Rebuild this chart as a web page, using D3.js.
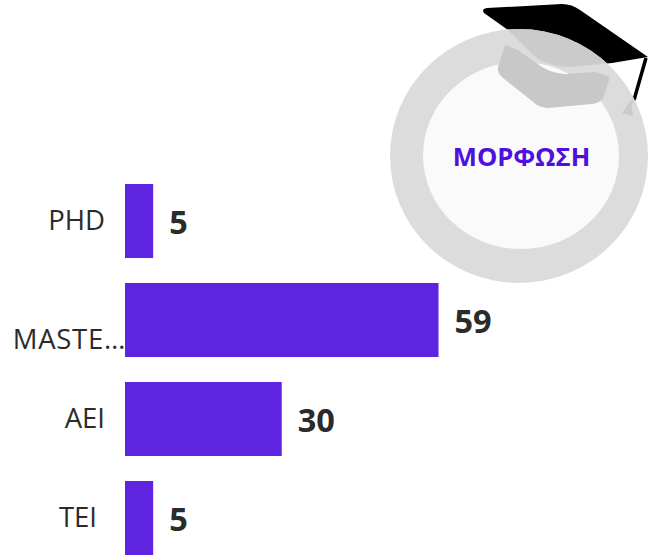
<!DOCTYPE html>
<html>
<head>
<meta charset="utf-8">
<script src="https://d3js.org/d3.v7.min.js"></script>
<style>
  html, body { margin: 0; padding: 0; background: #fff; overflow: hidden; }
  text { font-family: "Open Sans", "Noto Sans", sans-serif; }
</style>
</head>
<body>
<svg id="chart" width="648" height="556"></svg>
<script>
var categories = ["PHD", "MASTER", "AEI", "TEI"];
var values = [5.3, 59, 29.5, 5.3];
var title = "ΜΟΡΦΩΣΗ";

init = function () {
  var svg = d3.select("#chart");

  var x = d3.scaleLinear().domain([0, 59]).range([125, 438.5]);
  var y = d3.scaleBand().domain(categories).range([184, 555]).paddingInner(25 / 99);

  var capTop = "M484 13 Q481 9 487 8 L562 4 Q572 4 580 10 L648 57 L612 63 L570 67 Q550 67 535 57 L508 30 Z";

  svg.append("clipPath")
    .attr("id", "ringclip")
    .append("ellipse")
    .attr("cx", 519).attr("cy", 156).attr("rx", 129).attr("ry", 127);

  //Badge behind the chart
  var badge = svg.append("g");
  badge.append("path")
    .attr("fill", "#000")
    .attr("d", capTop);
  badge.append("path")
    .attr("fill", "none")
    .attr("stroke", "#000")
    .attr("stroke-width", 3.5)
    .attr("d", "M646 58 L634 100");
  badge.append("ellipse")
    .attr("cx", 519).attr("cy", 156).attr("rx", 129).attr("ry", 127)
    .attr("fill", "#dcdcdc");
  badge.append("ellipse")
    .attr("cx", 521).attr("cy", 155.5).attr("rx", 98).attr("ry", 93.5)
    .attr("fill", "#fafafa");

  //The ring is see-through in the original, so redraw what lies under it in grey
  var under = badge.append("g").attr("clip-path", "url(#ringclip)");
  under.append("path")
    .attr("fill", "#cbcbcb")
    .attr("d", capTop);
  under.append("path")
    .attr("fill", "none")
    .attr("stroke", "#d2d2d2")
    .attr("stroke-width", 3.5)
    .attr("d", "M646 58 L632 104");
  badge.append("path")
    .attr("fill", "#c8c8c8")
    .attr("d", "M505 45 L518 50 L542 67 Q552 73 565 74 L595 72 L610 77 L603 98 Q600 103 592 104 L548 108 Q542 108 537 105 L503 78 Q497 73 498 67 Z");
  badge.append("path")
    .attr("fill", "#cbcbcb")
    .attr("d", "M631 100 L622 113 L633 116 Z");

  svg.append("text")
    .attr("x", 521.5).attr("y", 166)
    .attr("text-anchor", "middle")
    .attr("font-size", 25.6).attr("font-weight", 700)
    .attr("fill", "#4f0fdc")
    .text(title);

  //Bars
  svg.selectAll("rect.bar")
    .data(values)
    .enter()
    .append("rect")
    .attr("class", "bar")
    .attr("x", x(0))
    .attr("y", function (d, i) { return y(categories[i]) })
    .attr("width", function (d) { return x(d) - x(0) })
    .attr("height", y.bandwidth())
    .attr("fill", "#5f24e0");

  //Category labels, MASTER is cut off the way the original does it
  svg.selectAll("text.cat")
    .data(categories)
    .enter()
    .append("text")
    .attr("class", "cat")
    .attr("x", function (d) { return d == "MASTER" ? 126 : d == "TEI" ? 97 : 105 })
    .attr("y", function (d) { return y(d) + y.bandwidth() / 2 + (d == "MASTER" ? 29 : 9) })
    .attr("text-anchor", "end")
    .attr("font-size", 27.5)
    .attr("letter-spacing", function (d) { return d == "MASTER" ? 0.7 : 0 })
    .attr("fill", "#2b2b2b")
    .text(function (d) { return d == "MASTER" ? "MASTE…" : d });

  //Value labels
  svg.selectAll("text.val")
    .data(values)
    .enter()
    .append("text")
    .attr("class", "val")
    .attr("x", function (d) { return x(d) + 16 })
    .attr("y", function (d, i) { return y(categories[i]) + y.bandwidth() / 2 + 12.5 })
    .attr("font-size", 32.5).attr("font-weight", 700)
    .attr("fill", "#2b2b2b")
    .text(function (d) { return d3.format(".0f")(d) });
}
init();
</script>
</body>
</html>
